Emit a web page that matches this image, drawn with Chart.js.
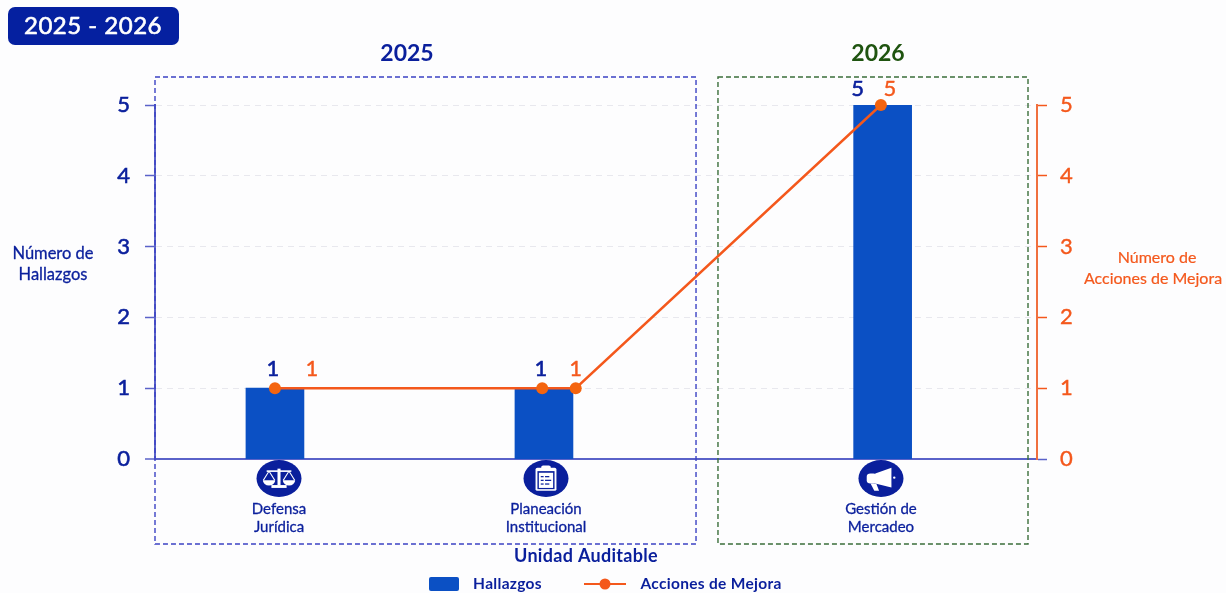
<!DOCTYPE html>
<html lang="es">
<head>
<meta charset="utf-8">
<title>Hallazgos y Acciones de Mejora 2025 - 2026</title>
<script src="https://cdn.jsdelivr.net/npm/chart.js@4/dist/chart.umd.min.js"></script>
<style>
    html, body { margin: 0; padding: 0; background: #fdfdfe; }
    canvas { display: block; }
</style>
</head>
<body>
<canvas id="audit-chart" width="1226" height="593"></canvas>
<script>
const categories = [["Defensa", "Jurídica"], ["Planeación", "Institucional"], ["Gestión de", "Mercadeo"]];
const hallazgos = [1, 1, 5];
const acciones = [1, 1, 1, 5];
// x runs 0-100 across the plot, units are shared by bars, line and labels
const barSlots = [13.6, 44.1, 82.5];
const lineSlots = [13.6, 43.9, 47.7, 82.3];
const categorySlots = [14.06, 44.33, 82.31];
const yTicks = [0, 1, 2, 3, 4, 5];
const panelYears = ["2025", "2026"];

const NAVY = "#0a1f9c";
const BAR = "#0b50c4";
const ORANGE = "#f4581c";
const GREEN = "#1f5410";
const AXIS = "#5a62c9";
const FONT = "Lato, sans-serif";

const panels = [
    { from: 0, to: 61.34, color: "#3b42c4" },
    { from: 63.83, to: 98.98, color: "#3a6e3a" },
];

// thick > 0 adds a thin outline, Lato here only has regular and bold
function text(ctx, str, x, y, font, color, spacing, thick) {
    ctx.font = font;
    ctx.fillStyle = color;
    ctx.textAlign = "center";
    ctx.textBaseline = "middle";
    ctx.letterSpacing = spacing || "0px";
    if (thick) {
        ctx.strokeStyle = color;
        ctx.lineWidth = thick;
        ctx.lineJoin = "round";
        ctx.strokeText(str, x, y);
    }
    ctx.fillText(str, x, y);
    ctx.letterSpacing = "0px";
}

function scalesIcon(ctx) {
    ctx.fillStyle = "#fff";
    ctx.strokeStyle = "#fff";
    ctx.lineWidth = 2;
    ctx.fillRect(-1.6, -12, 3.2, 20);
    ctx.fillRect(-8, 8, 16, 3.5);
    ctx.beginPath();
    ctx.moveTo(-13, -9);
    ctx.lineTo(13, -9);
    ctx.stroke();
    [-10.5, 10.5].forEach((cx) => {
        ctx.lineWidth = 1.2;
        ctx.beginPath();
        ctx.moveTo(cx, -9);
        ctx.lineTo(cx - 6, 2);
        ctx.moveTo(cx, -9);
        ctx.lineTo(cx + 6, 2);
        ctx.stroke();
        ctx.beginPath();
        ctx.arc(cx, 2, 6.5, 0, Math.PI);
        ctx.closePath();
        ctx.fill();
    });
}

function clipboardIcon(ctx) {
    ctx.fillStyle = "#fff";
    ctx.beginPath();
    ctx.roundRect(-11, -13, 22, 28, 2);
    ctx.fill();
    ctx.fillStyle = NAVY;
    ctx.fillRect(-9, -9, 18, 22);
    ctx.fillStyle = "#fff";
    ctx.fillRect(-7.5, -7, 15, 18.5);
    ctx.beginPath();
    ctx.roundRect(-5, -16, 10, 7, 2);
    ctx.fill();
    ctx.fillStyle = NAVY;
    [-3, 1.5, 6].forEach((y, i) => {
        ctx.fillRect(-5.5, y, 3, 1.5);
        ctx.fillRect(-1, y, i === 1 ? 6.5 : 4.5, 1.5);
    });
}

function megaphoneIcon(ctx) {
    ctx.fillStyle = "#fff";
    ctx.beginPath();
    ctx.moveTo(11, -13);
    ctx.lineTo(-6, -6);
    ctx.lineTo(-6, 6);
    ctx.lineTo(11, 11);
    ctx.closePath();
    ctx.fill();
    ctx.beginPath();
    ctx.roundRect(-15, -6, 11, 12, 4);
    ctx.fill();
    ctx.beginPath();
    ctx.moveTo(-11, 6);
    ctx.lineTo(-5, 6);
    ctx.lineTo(-2, 15);
    ctx.lineTo(-7, 15);
    ctx.closePath();
    ctx.fill();
    ctx.beginPath();
    ctx.arc(14, -1, 1.3, 0, Math.PI * 2);
    ctx.fill();
}

const icons = [scalesIcon, clipboardIcon, megaphoneIcon];

// dashed year panels sit behind the bars
const panelPlugin = {
    id: "panels",
    beforeDatasetsDraw(chart) {
        const { ctx, scales } = chart;
        const top = scales.y.getPixelForValue(5.395);
        const bottom = scales.y.getPixelForValue(-1.2);
        ctx.save();
        ctx.lineWidth = 1.4;
        ctx.setLineDash([5, 3]);
        panels.forEach((p) => {
            const left = scales.x.getPixelForValue(p.from);
            const right = scales.x.getPixelForValue(p.to);
            ctx.strokeStyle = p.color;
            ctx.strokeRect(left, top, right - left, bottom - top);
        });
        ctx.restore();
    },
};

// value labels, icons, titles, badge and legend
const annotationPlugin = {
    id: "annotations",
    afterDatasetsDraw(chart) {
        const { ctx, scales } = chart;
        const barMeta = chart.getDatasetMeta(1).data;
        const lineMeta = chart.getDatasetMeta(0).data;
        ctx.save();

        const barShift = [-2, -3, -25];
        const barRise = [19, 19, 16];
        hallazgos.forEach((v, i) => {
            text(ctx, String(v), barMeta[i].x + barShift[i], barMeta[i].y - barRise[i], "22px " + FONT, NAVY, "0px", 0.6);
        });
        const lineShift = [37, null, 0, 9];
        const lineRise = [19, null, 19, 16];
        acciones.forEach((v, i) => {
            if (lineShift[i] === null) return;
            text(ctx, String(v), lineMeta[i].x + lineShift[i], lineMeta[i].y - lineRise[i], "22px " + FONT, ORANGE, "0px", 0.4);
        });

        categorySlots.forEach((slot, i) => {
            ctx.save();
            ctx.translate(scales.x.getPixelForValue(slot), 478.5);
            ctx.scale(1, 0.82);
            ctx.fillStyle = NAVY;
            ctx.beginPath();
            ctx.arc(0, 0, 22.5, 0, Math.PI * 2);
            ctx.fill();
            ctx.scale(0.95, 1);
            icons[i](ctx);
            ctx.restore();
        });

        ctx.fillStyle = "#0520a0";
        ctx.beginPath();
        ctx.roundRect(8, 7, 171, 38, 7);
        ctx.fill();
        text(ctx, "2025 - 2026", 93, 26, "24px " + FONT, "#ffffff", "0.5px", 0.6);

        text(ctx, panelYears[0], 407, 54, "bold 23px " + FONT, NAVY);
        text(ctx, panelYears[1], 878, 54, "bold 23px " + FONT, GREEN);

        text(ctx, "Número de", 53, 254, "16.5px " + FONT, NAVY, "0px", 0.3);
        text(ctx, "Hallazgos", 53, 275, "16.5px " + FONT, NAVY, "0px", 0.3);
        text(ctx, "Número de", 1157, 258, "16px " + FONT, ORANGE, "0px", 0.2);
        text(ctx, "Acciones de Mejora", 1153, 279, "16px " + FONT, ORANGE, "0px", 0.2);

        text(ctx, "Unidad Auditable", 586, 556, "bold 18px " + FONT, NAVY, "0.3px");

        // legend
        ctx.fillStyle = BAR;
        ctx.beginPath();
        ctx.roundRect(429, 577, 30, 14, 2);
        ctx.fill();
        text(ctx, chart.data.datasets[1].label, 507.5, 584, "bold 15.5px " + FONT, NAVY, "0.3px");
        ctx.strokeStyle = ORANGE;
        ctx.lineWidth = 2;
        ctx.beginPath();
        ctx.moveTo(584, 584);
        ctx.lineTo(626, 584);
        ctx.stroke();
        ctx.fillStyle = ORANGE;
        ctx.beginPath();
        ctx.arc(605, 584, 5.5, 0, Math.PI * 2);
        ctx.fill();
        text(ctx, chart.data.datasets[0].label, 711, 584, "bold 15.5px " + FONT, NAVY, "0.3px");

        ctx.restore();
    },
};

const config = {
    type: "bar",
    data: {
        datasets: [
            {
                type: "line",
                label: "Acciones de Mejora",
                data: acciones.map((y, i) => ({ x: lineSlots[i], y: y })),
                borderColor: ORANGE,
                backgroundColor: ORANGE,
                borderWidth: 2.4,
                pointRadius: 6,
                pointBackgroundColor: "#f4640f",
                pointBorderWidth: 0,
                tension: 0,
                xAxisID: "x",
                yAxisID: "y1",
                order: 0,
                clip: false,
            },
            {
                type: "bar",
                label: "Hallazgos",
                data: hallazgos.map((y, i) => ({ x: barSlots[i], y: y })),
                backgroundColor: BAR,
                barThickness: 58,
                xAxisID: "x",
                yAxisID: "y",
                order: 1,
            },
        ],
    },
    options: {
        responsive: false,
        animation: false,
        layout: { padding: { top: 105, left: 0, right: 0, bottom: 0 } },
        plugins: {
            legend: { display: false },
            title: { display: false },
            tooltip: { enabled: false },
        },
        scales: {
            x: {
                type: "linear",
                offset: false,
                min: 0,
                max: 100,
                afterBuildTicks(axis) {
                    axis.ticks = categorySlots.map((v) => ({ value: v }));
                },
                afterFit(scale) { scale.height = 134; },
                grid: { display: false, drawTicks: false },
                border: { display: true, color: AXIS, width: 2 },
                ticks: {
                    autoSkip: false,
                    maxRotation: 0,
                    padding: 41,
                    color: NAVY,
                    textStrokeColor: NAVY,
                    textStrokeWidth: 0.3,
                    font: { family: FONT, size: 15, lineHeight: 1.2 },
                    callback: (value, i) => categories[i],
                },
            },
            y: {
                position: "left",
                min: 0,
                max: 5,
                afterBuildTicks(axis) {
                    axis.ticks = yTicks.map((v) => ({ value: v }));
                },
                afterFit(scale) { scale.width = 155; },
                grid: {
                    color: "#e8e8ee",
                    tickColor: AXIS,
                    tickLength: 10,
                    lineWidth: (c) => (c.tick && c.tick.value === 0 ? 0 : 1),
                    tickWidth: 1.5,
                },
                border: { display: true, color: AXIS, width: 2, dash: [6, 5] },
                ticks: {
                    padding: 15,
                    color: NAVY,
                    textStrokeColor: NAVY,
                    textStrokeWidth: 0.6,
                    font: { family: FONT, size: 22 },
                },
            },
            y1: {
                position: "right",
                min: 0,
                max: 5,
                afterBuildTicks(axis) {
                    axis.ticks = yTicks.map((v) => ({ value: v }));
                },
                afterFit(scale) { scale.width = 189; },
                grid: {
                    drawOnChartArea: false,
                    tickLength: 10,
                    tickWidth: 1.5,
                    tickColor: (c) => (c.tick && c.tick.value === 0 ? AXIS : ORANGE),
                },
                border: { display: true, color: "#f0703f", width: 2 },
                ticks: {
                    padding: 13,
                    color: ORANGE,
                    textStrokeColor: ORANGE,
                    textStrokeWidth: 0.4,
                    font: { family: FONT, size: 22 },
                },
            },
        },
    },
    plugins: [panelPlugin, annotationPlugin],
};

const auditChart = new Chart(document.getElementById("audit-chart"), config);
</script>
</body>
</html>
